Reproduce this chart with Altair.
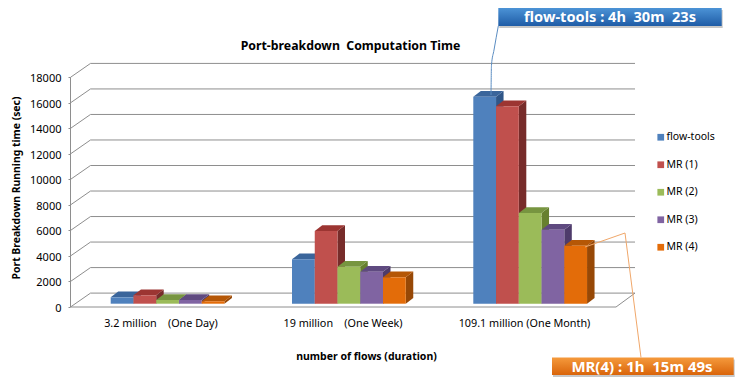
import altair as alt
import pandas as pd

categories = ["3.2 million\u00a0\u00a0\u00a0\u00a0(One Day)", "19 million\u00a0\u00a0\u00a0\u00a0(One Week)", "109.1 million (One Month)"]
series = ["flow-tools", "MR (1)", "MR (2)", "MR (3)", "MR (4)"]
flow_tools = [500, 3480, 16223]
mr1 = [660, 5700, 15480]
mr2 = [290, 2900, 7110]
mr3 = [290, 2510, 5800]
mr4 = [190, 2070, 4549]
front_colors = ["#4F81BD", "#C0504D", "#9BBB59", "#8064A2", "#E36C09"]
top_colors = ["#3A659B", "#9C3532", "#779540", "#5F4A80", "#B55706"]
side_colors = ["#2F5688", "#772C2A", "#67802F", "#4E3B6B", "#974806"]
ticks = list(range(0, 18001, 2000))
font = "Noto Sans"

# layout of the pseudo-3D box
PX_PER_SEC = 0.01276
Y0 = 307.0
def sec(py):
    return (Y0 - py) / PX_PER_SEC
X_DOM = [8, 735]
Y_DOM = [sec(378), sec(8)]
xs = alt.Scale(domain=X_DOM, nice=False, zero=False)
ys = alt.Scale(domain=Y_DOM, nice=False, zero=False)
X = lambda f: alt.X(f, type="quantitative", scale=xs, axis=None)
Y = lambda f: alt.Y(f, type="quantitative", scale=ys, axis=None)
Y2 = lambda f: alt.Y2(f)

WALL_L, WALL_BACK, RIGHT_FRONT, RIGHT_BACK = 70.5, 90.5, 616, 635
WALL_D = 13.9 / PX_PER_SEC
group_x = [110.7, 292.0, 473.3]
BAR_W = 22.75
BAR_BASE = 3.3 / PX_PER_SEC
DX = 7.5
DD = 5.7 / PX_PER_SEC

values = [flow_tools, mr1, mr2, mr3, mr4]
front, top, side = [], [], []
for g, gx in enumerate(group_x):
    for s, name in enumerate(series):
        v = values[s][g] + BAR_BASE
        x0 = gx + s * BAR_W
        x1 = x0 + BAR_W
        bid = f"{g}-{s}"
        front.append(dict(x=x0, x2=x1, y=BAR_BASE, y2=v, series=name, s=s))
        side += [dict(id=bid, s=s, x=x1, lo=BAR_BASE, hi=v),
                 dict(id=bid, s=s, x=x1 + DX, lo=BAR_BASE + DD, hi=v + DD)]
        top += [dict(id=bid, s=s, x=x0, lo=v, hi=v),
                dict(id=bid, s=s, x=x0 + DX, lo=v, hi=v + DD),
                dict(id=bid, s=s, x=x1, lo=v, hi=v + DD),
                dict(id=bid, s=s, x=x1 + DX, lo=v + DD, hi=v + DD)]

grid = []
for t in ticks:
    grid += [dict(id=t, o=0, x=WALL_L, y=t), dict(id=t, o=1, x=WALL_BACK, y=t + WALL_D),
             dict(id=t, o=2, x=RIGHT_BACK, y=t + WALL_D)]
frame = [dict(id="f", o=0, x=WALL_L, y=18000), dict(id="f", o=1, x=WALL_L, y=0),
         dict(id="f", o=2, x=RIGHT_FRONT, y=0), dict(id="f", o=3, x=RIGHT_BACK, y=WALL_D)]

grid_l = alt.Chart(pd.DataFrame(grid)).mark_line(color="#8E8E8E", strokeWidth=1).encode(
    x=X("x"), y=Y("y"), detail="id:N", order="o:Q")
frame_l = alt.Chart(pd.DataFrame(frame)).mark_line(color="#8E8E8E", strokeWidth=1).encode(
    x=X("x"), y=Y("y"), order="o:Q")

axis_l = alt.Chart(pd.DataFrame({"t": ticks})).mark_point(opacity=0).encode(
    x=alt.value(62),
    y=alt.Y("t:Q", scale=ys, axis=alt.Axis(
        values=ticks, title=None, offset=-62, domain=False, grid=False, tickColor="#8E8E8E",
        tickSize=2, labelPadding=7, labelOffset=1.5, labelFont=font, labelFontSize=11,
        labelColor="#000000", format="d")))

def shade(data, colors):
    return alt.Chart(pd.DataFrame(data)).mark_area(interpolate="linear", opacity=1).encode(
        x=X("x"), y=Y("lo"), y2=Y2("hi"), detail="id:N",
        color=alt.Color("s:O", scale=alt.Scale(domain=list(range(5)), range=colors), legend=None))

side_l = shade(side, side_colors)
top_l = shade(top, top_colors)
front_l = alt.Chart(pd.DataFrame(front)).mark_rect().encode(
    x=X("x"), x2="x2", y=Y("y"), y2="y2",
    fill=alt.Fill("series:N", scale=alt.Scale(domain=series, range=front_colors),
                  legend=alt.Legend(title=None, orient="none", legendX=647.5, legendY=124, symbolType="square",
                                    symbolSize=45, symbolStrokeWidth=0, labelFont=font, labelFontSize=10.5,
                                    labelColor="#000000", rowPadding=16.5, labelOffset=0.5)))

cat_l = alt.Chart(pd.DataFrame({"c": categories, "x": [161, 343, 524.5]})).mark_text(
    font=font, fontSize=10.8, color="#000000").encode(x=X("x"), y=alt.value(315.5), text="c:N")

def label(txt, x, y, size, bold=True, color="#000000", angle=0):
    return alt.Chart(pd.DataFrame({"t": [txt]})).mark_text(
        font=font, fontSize=size, fontWeight="bold" if bold else "normal", color=color, angle=angle,
        align="center", baseline="middle").encode(x=alt.value(x), y=alt.value(y), text="t:N")

title_l = label("Port-breakdown\u00a0\u00a0Computation Time", 342.5, 38, 12.3)
xt_l = label("number of flows (duration)", 358.5, 348.5, 10.5)
yt_l = label("Port Breakdown Running time (sec)", 8.5, 180, 10.4, angle=270)

def box(x0, x1, y0, y1, c_top, c_bot):
    d = pd.DataFrame({"a": [x0], "b": [x1], "c": [sec(y0)], "e": [sec(y1)]})
    shadow = pd.DataFrame({"a": [x0 + 1], "b": [x1 + 1], "c": [sec(y0 + 2)], "e": [sec(y1 + 2)]})
    s = alt.Chart(shadow).mark_rect(fill="#000000", opacity=0.22).encode(x=X("a"), x2="b", y=Y("c"), y2="e")
    r = alt.Chart(d).mark_rect(
        fill=alt.LinearGradient(gradient="linear", x1=0, x2=0, y1=0, y2=1,
                                stops=[alt.GradientStop(color=c_top, offset=0),
                                       alt.GradientStop(color=c_bot, offset=1)])
    ).encode(x=X("a"), x2="b", y=Y("c"), y2="e")
    return s + r

def leader(pts, color, curve="linear"):
    d = pd.DataFrame([dict(o=i, x=p[0], y=sec(p[1])) for i, p in enumerate(pts)])
    return alt.Chart(d).mark_line(color=color, strokeWidth=1, interpolate=curve).encode(
        x=X("x"), y=Y("y"), order="o:Q")

blue_box = box(498.3, 721.7, 8, 26, "#4C93D6", "#1F5CA6")
orange_box = box(552, 733.7, 357.5, 375, "#F59A3C", "#D9640A")
blue_lead = alt.Chart(pd.DataFrame([dict(o=i, y=sec(p[1]), x=p[0]) for i, p in enumerate(
    [(498.3, 26), (494, 50), (491.5, 65), (491, 95)])])).mark_line(
    color="#5B8DC2", strokeWidth=1, interpolate="monotone").encode(
    x=X("x"), y=Y("y"), order="o:Q")
orange_lead = leader([(641, 357.5), (625, 233), (585, 247)], "#F0A76A")

blue_txt = label("flow-tools : 4h  30m  23s".replace("  ", "\u00a0\u00a0"), 602, 10, 14.6, color="#FFFFFF")
or_txt = label("MR(4) : 1h  15m 49s".replace("  ", "\u00a0\u00a0"), 634, 358.5, 15, color="#FFFFFF")

chart = alt.layer(
    grid_l, frame_l, axis_l, side_l, top_l, front_l, cat_l, title_l, xt_l, yt_l,
    blue_box, orange_box, blue_lead, orange_lead, blue_txt, or_txt
).resolve_scale(color="independent").resolve_axis(y="independent").properties(
    width=727, height=370, padding=0, autosize=alt.AutoSizeParams(type="none"), background="#FFFFFF"
).configure_view(stroke=None)

chart.save("out.html", embed_options={"renderer": "svg", "actions": False})
